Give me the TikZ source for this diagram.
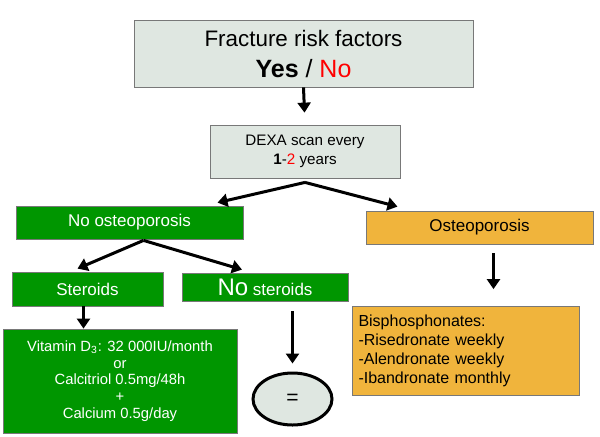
\documentclass[tikz,border=0pt]{standalone}
\usepackage{fontspec}
\setmainfont{Liberation Sans}
\usetikzlibrary{shapes.geometric,calc,arrows.meta}

\definecolor{boxgrey}{RGB}{223,231,225}
\definecolor{boxedge}{RGB}{120,120,120}
\definecolor{leafgreen}{RGB}{0,150,0}
\definecolor{ostorange}{RGB}{240,180,60}

\tikzstyle{greybox} = [draw=boxedge,fill=boxgrey,inner sep=0pt,align=center]
\tikzstyle{greenbox} = [draw=boxedge,fill=leafgreen,text=white,inner sep=0pt,align=center,font=\fontsize{8.5}{10}\selectfont]
\tikzstyle{orangebox} = [draw=boxedge,fill=ostorange,inner sep=0pt,font=\fontsize{8.5}{10}\selectfont]
\tikzstyle{arrowdecorate}=[->,>={Triangle[length=5pt,width=6.5pt]},line width=1.5pt]

\begin{document}
\begin{tikzpicture}[x=0.5pt,y=-0.5pt]
    \useasboundingbox (0,0) rectangle (600,436);
    %% top of the tree
    \node[greybox, minimum width=169.5pt, minimum height=33.5pt, font=\fontsize{11.2}{15.5}\selectfont]
      (risk) at (303.5,53.5) {Fracture risk factors\\{\fontsize{12.5}{15.5}\selectfont\textbf{Yes} / \textcolor{red}{No}}};
    \node[greybox, minimum width=95pt, minimum height=26.5pt, font=\fontsize{7.6}{9.5}\selectfont]
      (dexa) at (305,151.5) {DEXA scan every\\\textbf{1}-\textcolor{red}{2} years};
    %% second and third rows
    \foreach \nodename/\x/\y/\w/\h/\txt in {
      noost/129.5/222.5/113.5/16.5/No osteoporosis,
      ster/87.5/289/75.5/17/Steroids}
    {
      \node[greenbox, minimum width=\w pt, minimum height=\h pt] (\nodename) at (\x,\y) {\txt};
    }
    \node[greenbox, minimum width=83pt, minimum height=14pt]
      (noster) at (265,287) {{\fontsize{12}{12}\selectfont No} steroids};
    \node[orangebox, minimum width=113.5pt, minimum height=16.5pt] (ost) at (479.5,227.5) {Osteoporosis};
    %% leaves
    \node[greenbox, minimum width=117pt, minimum height=52pt, font=\fontsize{7.4}{8.4}\selectfont]
      (vit) at (120,381) {Vitamin D\textsubscript{3}: 32 000IU/month\\or\\Calcitriol 0.5mg/48h\\+\\Calcium 0.5g/day};
    \node[ellipse, draw, line width=1.5pt, fill=boxgrey, minimum width=39.5pt, minimum height=26pt, inner sep=0pt,
      font=\fontsize{10.5}{10}\selectfont] (same) at (292.5,399) {=};
    \node[orangebox, minimum width=113.5pt, minimum height=44.5pt, text width=107pt, align=left, inner xsep=3pt,
      font=\fontsize{8}{9.6}\selectfont] (bis) at (465.5,351) {Bisphosphonates:\\-Risedronate weekly\\-Alendronate weekly\\-Ibandronate monthly};
    %% arrows
    \draw[arrowdecorate, shorten >=6pt] (risk.south) -- (dexa.north);
    \draw[arrowdecorate] ([yshift=-2pt]dexa.south) -- ([xshift=44pt,yshift=1.5pt]noost.north);
    \draw[arrowdecorate] ([yshift=-2pt]dexa.south) -- ([xshift=-41pt,yshift=2pt]ost.north);
    \draw[arrowdecorate] ([xshift=7pt,yshift=-0.5pt]noost.south) -- ([xshift=-5pt,yshift=1.5pt]ster.north);
    \draw[arrowdecorate] ([xshift=7pt,yshift=-0.5pt]noost.south) -- ([xshift=-11.5pt,yshift=1.5pt]noster.north);
    \draw[arrowdecorate] ([xshift=-2pt]ster.south) -- ([xshift=-2pt]ster.south |- vit.north);
    \draw[arrowdecorate, shorten <=5pt, shorten >=4pt] (same.north |- noster.south) -- (same.north);
    \draw[arrowdecorate, shorten <=4.5pt, shorten >=8.5pt] ([xshift=7pt]ost.south) -- ([xshift=7pt]ost.south |- bis.north);
\end{tikzpicture}
\end{document}
